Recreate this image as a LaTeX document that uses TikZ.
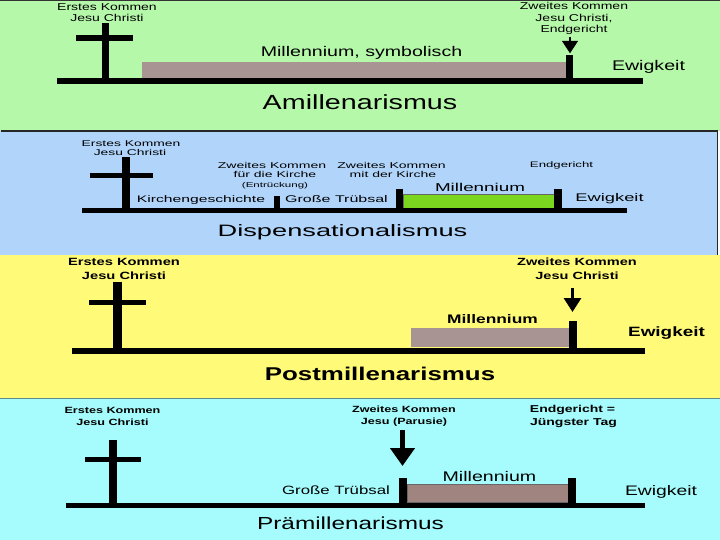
\documentclass[tikz,border=0pt]{standalone}
\usepackage{fontspec}
\setmainfont[FakeStretch=1.4]{Liberation Sans}
\newfontfamily\wideD[FakeStretch=1.65]{Liberation Sans}
\usetikzlibrary{arrows.meta}
\definecolor{pgreen}{RGB}{182,248,170}
\definecolor{pblue}{RGB}{176,212,250}
\definecolor{pyellow}{RGB}{255,250,120}
\definecolor{pcyan}{RGB}{166,252,252}
\definecolor{mauve}{RGB}{168,148,146}
\definecolor{mauvefour}{RGB}{160,132,128}
\definecolor{lime}{RGB}{122,214,30}
\newcommand\fz[1]{\fontsize{#1}{#1}\selectfont}
\tikzset{
  lbl/.style={anchor=base, inner sep=0pt, outer sep=0pt},
  baseline line/.style={line width=5.5pt},
  downarrow/.style={line width=#1},
}
\begin{document}
\begin{tikzpicture}[x=1pt,y=-1pt]
\useasboundingbox (0,0) rectangle (720,540);
% backgrounds
\fill[pgreen] (0,0) rectangle (720,131);
\draw[black!80, line width=1pt] (0,0.5) -- (720,0.5);
\fill[pblue] (0,131) rectangle (718,255);
\draw[black!85, line width=1.2pt] (0.6,131) -- (717.4,131) -- (717.4,255);
\fill[pyellow] (0,255) rectangle (720,398);
\fill[pcyan] (0,398) rectangle (720,540);
\draw[black!45!pcyan, line width=0.8pt] (0,398.4) -- (720,398.4);

% ================= Panel 1: Amillenarismus
\fill (102,23) rectangle (109,80);
\fill (76,35) rectangle (133,41);
\fill[mauve] (142,62) rectangle (566,79);
\draw[baseline line] (57,81) -- (643,81);
\fill (566,55) rectangle (573,80);
\coordinate (a1s) at (570,37);
\coordinate (a1e) at (570,53.3);
\draw[line width=1.5pt, -{Triangle[width=16pt,length=12.5pt]}] (a1s) -- (a1e);
\node[lbl, font=\fz{10}] (e1a) at (107,10.5) {Erstes Kommen};
\node[lbl, font=\fz{10}] (e1b) at (107,21.5) {Jesu Christi};
\node[lbl, font=\fz{10}] (z1a) at (574,10) {Zweites Kommen};
\node[lbl, font=\fz{10}] (z1b) at (574,21.5) {Jesu Christi,};
\node[lbl, font=\fz{10}] (z1c) at (574,32.5) {Endgericht};
\node[lbl, font=\fz{14}] (m1) at (361.5,57) {Millennium, symbolisch};
\node[lbl, font=\fz{14}] (w1) at (648.5,70.5) {Ewigkeit};
\node[lbl, font=\fz{20.5}] (t1) at (360,110) {Amillenarismus};

% ================= Panel 2: Dispensationalismus
\fill (122,157) rectangle (130,210);
\fill (90,173) rectangle (153,178);
\fill[lime, draw=black!60, line width=0.5pt] (403,194) rectangle (554,209);
\draw[line width=5pt] (82,210.5) -- (627,210.5);
\fill (274,196) rectangle (280,210);
\fill (396,189) rectangle (403,210);
\fill (554,189) rectangle (562,210);
\node[lbl, font=\wideD\fz{8.4}] (e2a) at (131,147) {Erstes Kommen};
\node[lbl, font=\wideD\fz{8.4}] (e2b) at (130,156) {Jesu Christi};
\node[lbl, font=\wideD\fz{8.5}] (z2a) at (272,168.7) {Zweites Kommen};
\node[lbl, font=\wideD\fz{8.5}] (z2b) at (275,178) {für die Kirche};
\node[lbl, font=\wideD\fz{7}] (z2c) at (275,187.3) {(Entrückung)};
\node[lbl, font=\wideD\fz{8.5}] (z2d) at (391.5,168.7) {Zweites Kommen};
\node[lbl, font=\wideD\fz{8.5}] (z2e) at (393,178) {mit der Kirche};
\node[lbl, font=\wideD\fz{8}] (g2) at (561.5,168) {Endgericht};
\node[lbl, font=\wideD\fz{9.5}] (k2) at (201,203) {Kirchengeschichte};
\node[lbl, font=\wideD\fz{9.7}] (tr2) at (336.5,203) {Große Trübsal};
\node[lbl, font=\wideD\fz{11.4}] (m2) at (480,192) {Millennium};
\node[lbl, font=\wideD\fz{11.1}] (w2) at (609.5,202) {Ewigkeit};
\node[lbl, font=\wideD\fz{16.5}] (t2) at (342.5,236.3) {Dispensationalismus};

% ================= Panel 3: Postmillenarismus
\fill (113,282) rectangle (122,350);
\fill (89,300) rectangle (146,305);
\fill[mauve] (411,328) rectangle (570,347);
\draw[line width=6pt] (72,351) -- (645,351);
\fill (569,321) rectangle (577,349);
\coordinate (a3s) at (572.5,288);
\coordinate (a3e) at (572.5,312);
\draw[line width=3pt, -{Triangle[width=17pt,length=14pt]}] (a3s) -- (a3e);
\node[lbl, font=\bfseries\fz{10.5}] (e3a) at (124,265.7) {Erstes Kommen};
\node[lbl, font=\bfseries\fz{10.5}] (e3b) at (124,279) {Jesu Christi};
\node[lbl, font=\bfseries\fz{10.4}] (z3a) at (577,265.7) {Zweites Kommen};
\node[lbl, font=\bfseries\fz{10.4}] (z3b) at (577,279) {Jesu Christi};
\node[lbl, font=\bfseries\fz{12.4}] (m3) at (492.5,323.3) {Millennium};
\node[lbl, font=\bfseries\fz{13.5}] (w3) at (666.5,336.7) {Ewigkeit};
\node[lbl, font=\bfseries\fz{18.5}] (t3) at (380,380) {Postmillenarismus};

% ================= Panel 4: Prämillenarismus
\fill (109,440) rectangle (117,505);
\fill (85,457) rectangle (141,462);
\fill[mauvefour, draw=black!60, line width=0.6pt] (407,484) rectangle (568,502);
\draw[line width=5pt] (66,505.5) -- (645,505.5);
\fill (399,478) rectangle (407,506);
\fill (568,478) rectangle (576,506);
\coordinate (a4s) at (402.5,430);
\coordinate (a4e) at (402.5,466);
\draw[line width=4.5pt, -{Triangle[width=24pt,length=18pt]}] (a4s) -- (a4e);
\node[lbl, font=\bfseries\fz{9}] (e4a) at (112.5,413.7) {Erstes Kommen};
\node[lbl, font=\bfseries\fz{9}] (e4b) at (112.5,425.3) {Jesu Christi};
\node[lbl, font=\bfseries\fz{9}] (z4a) at (404,412) {Zweites Kommen};
\node[lbl, font=\bfseries\fz{9}] (z4b) at (404,424) {Jesu (Parusie)};
\node[lbl, font=\bfseries\fz{10}] (g4a) at (572.5,412) {Endgericht =};
\node[lbl, font=\bfseries\fz{10}] (g4b) at (573.5,425.3) {Jüngster Tag};
\node[lbl, font=\fz{14}] (m4) at (489.5,481.3) {Millennium};
\node[lbl, font=\fz{13.8}] (w4) at (661,495.3) {Ewigkeit};
\node[lbl, font=\fz{12}] (tr4) at (336,494.7) {Große Trübsal};
\node[lbl, font=\fz{17.4}] (t4) at (350.5,529) {Prämillenarismus};
\end{tikzpicture}
\end{document}
